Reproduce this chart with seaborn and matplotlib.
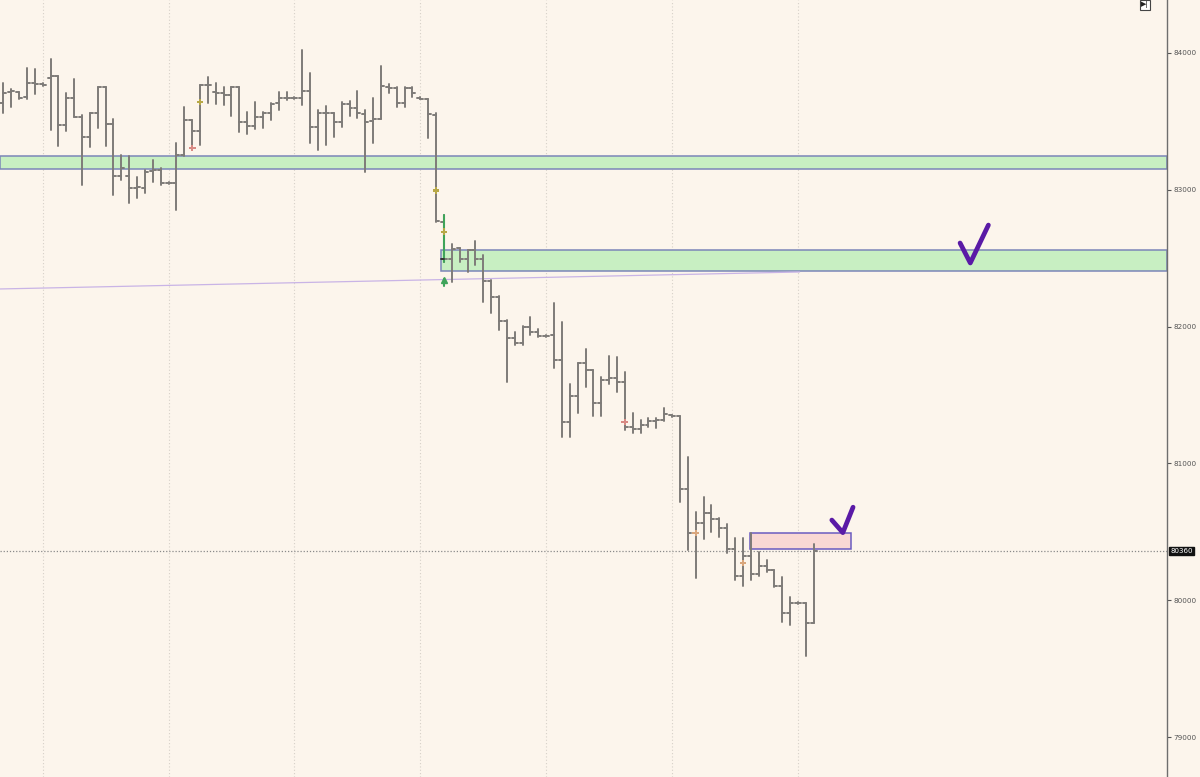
import numpy as np
import pandas as pd
import matplotlib
matplotlib.use("Agg")
import matplotlib.pyplot as plt
import matplotlib.transforms as mtransforms
from matplotlib.patches import Rectangle
import seaborn as sns

# ---------------- data ----------------
highs = [83781,83737,83715,83890,83883,83781,83956,83832,83708,83810,
         83547,83561,83751,83751,83518,83254,83247,83094,83145,83218,
         83159,83057,83342,83605,83510,83766,83825,83781,83751,83751,
         83751,83569,83642,83569,83635,83715,83715,83678,84022,83854,
         83583,83613,83561,83642,83649,83722,83583,83671,83905,83773,
         83751,83751,83751,83678,83664,83561,82816,82604,82575,82560,
         82626,82523,82341,82224,82048,81960,82004,82070,81982,81939,
         82173,82034,81580,81734,81836,81683,81632,81785,81778,81668,
         81368,81317,81332,81332,81405,81354,81346,81047,80645,80754,
         80696,80601,80557,80455,80455,80491,80352,80294,80221,80170,
         80023,79987,79980,80411]
lows = [83561,83605,83664,83664,83700,83759,83437,83320,83430,83532,
        83035,83313,83452,83320,82962,83072,82904,82940,82977,83057,
        83035,83042,82852,83247,83291,83327,83635,83627,83620,83539,
        83423,83408,83444,83452,83510,83583,83656,83664,83620,83342,
        83291,83327,83386,83459,83539,83525,83130,83342,83518,83708,
        83605,83605,83678,83664,83379,82765,82472,82326,82472,82399,
        82450,82180,82099,81975,81595,81865,81865,81939,81924,81924,
        81697,81193,81193,81368,81558,81346,81346,81580,81522,81244,
        81222,81222,81266,81259,81310,81339,80718,80367,80162,80447,
        80499,80462,80345,80148,80104,80148,80177,80206,80096,79841,
        79819,79972,79592,79833]
opens = [83635,83715,83715,83678,83781,83773,83817,83832,83474,83671,
         83532,83386,83561,83751,83481,83101,83101,83013,83013,83137,
         83145,83050,83050,83254,83510,83430,83766,83715,83708,83693,
         83751,83496,83466,83532,83561,83635,83671,83671,83671,83722,
         83459,83561,83561,83496,83627,83598,83554,83503,83518,83751,
         83744,83635,83744,83671,83664,83547,82765,82494,82575,82494,
         82560,82494,82333,82216,82041,81917,81880,81997,81960,81931,
         81939,81756,81303,81493,81734,81683,81442,81610,81624,81595,
         81266,81252,81281,81310,81317,81354,81346,80813,80491,80564,
         80637,80594,80528,80374,80177,80323,80192,80250,80221,80104,
         79906,79980,79980,79833]
closes = [83708,83722,83671,83781,83773,83766,83832,83474,83671,83532,
          83386,83561,83751,83481,83101,83159,83013,83020,83130,83145,
          83050,83050,83254,83510,83430,83766,83766,83708,83693,83751,
          83496,83466,83532,83561,83627,83671,83671,83671,83722,83459,
          83561,83561,83496,83627,83598,83561,83496,83518,83759,83744,
          83635,83744,83708,83664,83554,82772,82494,82567,82494,82560,
          82494,82333,82216,82041,81917,81880,81997,81960,81931,81931,
          81756,81303,81493,81734,81683,81442,81610,81624,81595,81266,
          81252,81281,81310,81317,81361,81346,80813,80491,80564,80637,
          80594,80528,80374,80177,80323,80192,80250,80221,80104,79906,
          79980,79980,79833,80360]

last_price = 80360
y_ticks = [79000, 80000, 81000, 82000, 83000, 84000]

# zones (price ranges)
zone1 = (83152, 83247)
zone2 = (82406, 82560)
zone_pink = (80374, 80491)

# markers on bars: (bar index, price, kind)
marker_bars = [24, 25, 55, 56, 79, 88, 94]
marker_prices = [83306, 83642, 82994, 82694, 81303, 80491, 80272]
marker_kinds = ["red", "olive", "olive", "olive", "red", "orange", "orange"]

# trend line (bar index, price)
trend_x = [-0.42, 101.2]
trend_y = [82275, 82399]

# hand drawn checks (bar index, price)
check1_x = [121.6, 122.9, 125.2]
check1_y = [82611, 82465, 82742]
check2_x = [105.3, 106.7, 108.0]
check2_y = [80586, 80494, 80680]

grid_bars = [5, 21, 37, 53, 69, 85, 101]

# ---------------- build long frame for seaborn ----------------
tick = 0.38
rows = []
seg = 0
for i, (h, l, o, c) in enumerate(zip(highs, lows, opens, closes)):
    rows += [(i, h, seg), (i, l, seg)]; seg += 1
    rows += [(i - tick, o, seg), (i, o, seg)]; seg += 1
    rows += [(i, c, seg), (i + tick, c, seg)]; seg += 1
df = pd.DataFrame(rows, columns=["x", "price", "seg"])

bg = "#fcf5ec"
sns.set_theme(style="white")
plt.rcParams["font.family"] = ["DejaVu Sans"]

fig = plt.figure(figsize=(12, 7.77), dpi=100, facecolor=bg)
ax = fig.add_axes([0, 0, 1167 / 1200, 1])
ax.set_facecolor(bg)

xmin, xmax = -0.42, 147.9
ymin, ymax = 78708, 84387

# grid
for g in grid_bars:
    ax.axvline(g, color="#d6d0c8", lw=0.8, ls=(0, (1, 2)), zorder=0)

# zones
ax.add_patch(Rectangle((xmin, zone1[0]), xmax - xmin, zone1[1] - zone1[0],
                       facecolor="#c8efc2", edgecolor="#7c86b8", lw=1.1, zorder=1))
ax.add_patch(Rectangle((55.6, zone2[0]), xmax - 55.6, zone2[1] - zone2[0],
                       facecolor="#c8efc2", edgecolor="#7c86b8", lw=1.1, zorder=1))
ax.add_patch(Rectangle((94.9, zone_pink[0]), 107.8 - 94.9, zone_pink[1] - zone_pink[0],
                       facecolor="#f9d8d4", edgecolor="#6a5cc0", lw=1.1, zorder=1))

# trend line
ax.plot(trend_x, trend_y, color="#c9b4e6", lw=0.9, zorder=1)

# last price dotted line
ax.axhline(last_price, color="#8a8a8a", lw=0.9, ls=(0, (1, 1.5)), zorder=1)

# OHLC bars
sns.lineplot(data=df, x="x", y="price", units="seg", estimator=None, sort=False,
             color="#7e7b78", linewidth=1.4, ax=ax, legend=False, zorder=3)

# green signal on bar 56
ax.plot([56, 56], [highs[56], lows[56]], color="#3fa45a", lw=1.5, zorder=4)
ax.plot([56 - tick, 56], [closes[56], closes[56]], color="#333333", lw=1.4, zorder=5)
ax.plot([56], [82340], marker="^", color="#3fa45a", ms=4.5, zorder=5)
ax.plot([56, 56], [82300, 82345], color="#3fa45a", lw=1.5, zorder=5)

colmap = {"red": "#d88a84", "olive": "#b7a847", "orange": "#d9a67c"}
mk = pd.DataFrame({"x": marker_bars, "price": marker_prices, "kind": marker_kinds})
sns.scatterplot(data=mk, x="x", y="price", hue="kind", palette=colmap, marker="P",
                s=24, ax=ax, legend=False, zorder=6, linewidth=0)

# checks
ax.plot(check1_x, check1_y, color="#5a1aa6", lw=3.4, solid_capstyle="round",
        solid_joinstyle="round", zorder=7)
ax.plot(check2_x, check2_y, color="#5a1aa6", lw=3.4, solid_capstyle="round",
        solid_joinstyle="round", zorder=7)

ax.set_xlim(xmin, xmax)
ax.set_ylim(ymin, ymax)
ax.set_xlabel("")
ax.set_ylabel("")
ax.set_xticks([])
ax.yaxis.tick_right()
ax.set_yticks(y_ticks)
ax.set_yticklabels([str(t) for t in y_ticks])
ax.tick_params(axis="y", direction="out", length=3, width=0.8, colors="#555555",
               labelsize=5.2, pad=1.5, right=True, labelright=True)
for s in ["top", "left", "bottom"]:
    ax.spines[s].set_visible(False)
ax.spines["right"].set_color("#6e6e6e")
ax.spines["right"].set_linewidth(1.0)

# last price label
trans = mtransforms.blended_transform_factory(ax.transAxes, ax.transData)
ax.text(1.003, last_price, str(last_price), transform=trans, fontsize=5,
        color="white", va="center", ha="left",
        bbox=dict(boxstyle="square,pad=0.2", facecolor="#111111", edgecolor="#111111"))

# top-right icon
fig.text(1145 / 1200, 1 - 5 / 777, "▶|", fontsize=5, color="#222222", ha="center",
         va="center", bbox=dict(boxstyle="square,pad=0.15", facecolor="white",
                                edgecolor="#444444", lw=0.8))

fig.savefig("out.png", dpi=100, facecolor=bg)
